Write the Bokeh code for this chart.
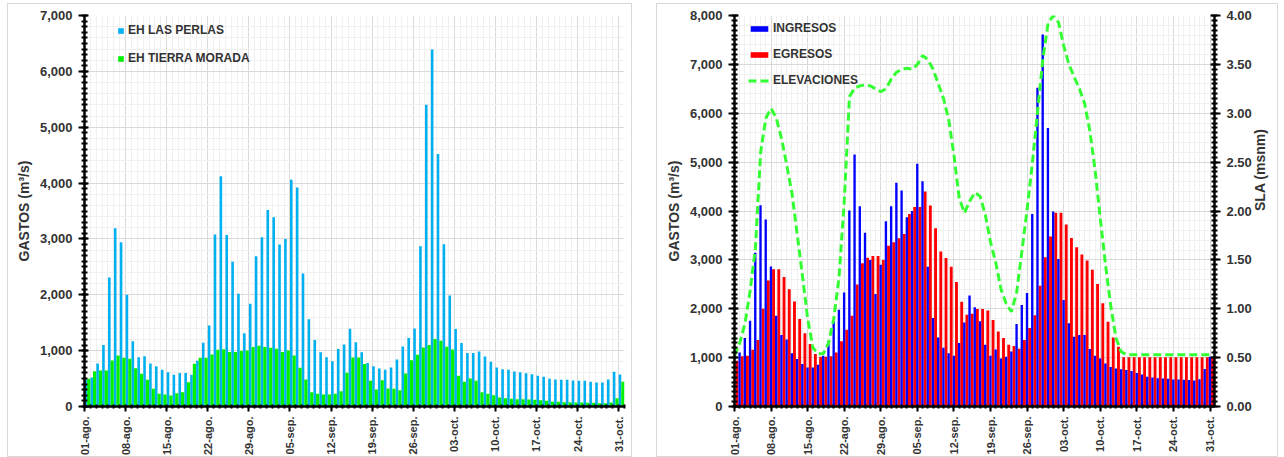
import math
from bokeh.plotting import figure
from bokeh.models import (ColumnDataSource, Range1d, LinearAxis, FixedTicker,
                          SingleIntervalTicker, NumeralTickFormatter, Legend, LegendItem)
from bokeh.layouts import row
from bokeh.embed import file_html
from bokeh.resources import INLINE

# ---------------- data ----------------
days = list(range(92))  # 01-ago .. 31-oct
tick_days = list(range(0, 92, 7))
tick_labels = ["01-ago.", "08-ago.", "15-ago.", "22-ago.", "29-ago.", "05-sep.", "12-sep.",
               "19-sep.", "26-sep.", "03-oct.", "10-oct.", "17-oct.", "24-oct.", "31-oct."]

las_perlas = [480, 520, 770, 1100, 2310, 3190, 2940, 2000, 1170, 880,
              900, 770, 720, 660, 615, 570, 600, 600, 570, 820,
              1140, 1450, 3080, 4120, 3070, 2590, 2020, 1310, 1840, 2690,
              3030, 3520, 3390, 2900, 3000, 4060, 3920, 2380, 1560, 1190,
              970, 880, 810, 1030, 1110, 1390, 1150, 970, 780, 720,
              680, 660, 700, 840, 1075, 1225, 1395, 2870, 5400, 6390,
              4520, 2905, 1985, 1387, 1135, 956, 956, 986, 896, 800,
              700, 669, 657, 627, 615, 597, 579, 550, 532, 496,
              484, 478, 478, 466, 460, 460, 442, 430, 430, 484,
              621, 573]
tierra_morada = [496, 633, 645, 645, 824, 914, 872, 854, 687, 585,
                 478, 317, 227, 215, 197, 239, 257, 436, 765, 872,
                 872, 932, 1016, 1027, 974, 974, 992, 1004, 1063, 1087,
                 1063, 1051, 1033, 974, 1004, 914, 693, 484, 257, 227,
                 215, 215, 227, 275, 603, 878, 878, 759, 460, 305,
                 472, 323, 317, 293, 591, 830, 926, 1057, 1099, 1207,
                 1177, 1069, 1021, 550, 442, 502, 460, 257, 227, 203,
                 161, 149, 137, 131, 131, 125, 119, 113, 102, 84,
                 84, 78, 78, 72, 72, 66, 66, 60, 60, 72,
                 149, 442]

ingresos = [1107, 1400, 1755, 3145, 4120, 3825, 2862, 1858, 1462, 1373,
            1090, 970, 868, 800, 800, 854, 1039, 1333, 1743, 1982,
            2331, 4010, 5155, 4098, 3555, 3000, 2300, 2900, 3790, 4098,
            4576, 4419, 3873, 4000, 4966, 4611, 2860, 1810, 1410, 1200,
            1090, 1040, 1300, 1720, 2270, 2029, 1742, 1264, 1038, 1168,
            984, 1018, 1127, 1687, 2077, 2322, 3941, 6523, 7609, 5700,
            3989, 3019, 2179, 1701, 1428, 1462, 1462, 1175, 1038, 984,
            881, 810, 780, 760, 745, 724, 683, 656, 608, 594,
            580, 574, 567, 553, 553, 546, 540, 530, 560, 765,
            1018, 1018]
egresos = [936, 1030, 1039, 1162, 1360, 2000, 2577, 2809, 2809, 2650,
           2399, 2146, 1791, 1500, 1278, 1073, 1018, 1018, 1030, 1107,
           1333, 1572, 1859, 2495, 2932, 3042, 3080, 3080, 3000, 3290,
           3360, 3440, 3530, 3940, 4080, 4080, 4400, 4112, 3648, 3170,
           3040, 2860, 2545, 2145, 1878, 1900, 1995, 1995, 1965, 1772,
           1533, 1400, 1264, 1237, 1182, 1359, 1605, 1865, 2473, 3053,
           3477, 3962, 3962, 3723, 3449, 3258, 3108, 2985, 2800, 2507,
           2110, 1735, 1414, 1223, 1010, 1010, 1010, 1010, 1010, 1010,
           1010, 1010, 1010, 1010, 1010, 1010, 1010, 1010, 1010, 1010,
           1010, 1010]
elevaciones = [0.52, 0.65, 0.85, 1.19, 1.62, 2.60, 2.95, 3.05, 2.95, 2.74,
               2.47, 2.18, 1.76, 1.34, 0.90, 0.60, 0.54, 0.54, 0.65, 0.90,
               1.32, 2.10, 3.17, 3.26, 3.28, 3.29, 3.28, 3.25, 3.22, 3.25,
               3.35, 3.42, 3.45, 3.46, 3.45, 3.50, 3.59, 3.55, 3.45, 3.30,
               3.15, 2.93, 2.57, 2.13, 1.98, 2.10, 2.19, 2.15, 1.96, 1.68,
               1.47, 1.20, 1.05, 0.97, 1.17, 1.59, 2.02, 2.49, 3.02, 3.55,
               3.92, 4.00, 3.93, 3.69, 3.50, 3.37, 3.25, 3.10, 2.82, 2.42,
               1.92, 1.45, 1.03, 0.70, 0.56, 0.53, 0.53, 0.53, 0.53, 0.53,
               0.53, 0.53, 0.53, 0.53, 0.53, 0.53, 0.53, 0.53, 0.53, 0.53,
               0.53, 0.53]

# ---------------- style helpers ----------------
FONT = "Liberation Sans"
TXT = "#333333"
GRID = "#d9d9d9"
MINOR = "#f0f0f0"


def style_y(ax, interval, fmt):
    ax.ticker = SingleIntervalTicker(interval=interval, num_minor_ticks=10)
    ax.formatter = NumeralTickFormatter(format=fmt)
    ax.axis_line_color = "black"
    ax.axis_line_width = 2.5
    ax.major_tick_line_color = "black"
    ax.major_tick_line_width = 2
    ax.major_tick_out = 6
    ax.major_tick_in = 4
    ax.minor_tick_line_color = "black"
    ax.minor_tick_line_width = 2
    ax.minor_tick_out = 3
    ax.minor_tick_in = 3
    ax.major_label_standoff = 6
    ax.major_label_text_font = FONT
    ax.major_label_text_font_style = "bold"
    ax.major_label_text_font_size = "13px"
    ax.major_label_text_color = TXT
    ax.axis_label_text_font = FONT
    ax.axis_label_text_font_style = "bold"
    ax.axis_label_text_font_size = "14px"
    ax.axis_label_text_color = TXT
    ax.axis_label_standoff = 5


def style_x(p):
    ax = p.xaxis[0]
    ax.ticker = FixedTicker(ticks=tick_days, minor_ticks=days + [92])
    ax.major_label_overrides = {d: lab for d, lab in zip(tick_days, tick_labels)}
    ax.major_label_orientation = math.pi / 2
    ax.axis_line_color = "black"
    ax.axis_line_width = 2.5
    ax.major_tick_line_color = "black"
    ax.major_tick_line_width = 2
    ax.major_tick_out = 5
    ax.major_tick_in = 0
    ax.minor_tick_line_color = "black"
    ax.minor_tick_line_width = 2
    ax.minor_tick_out = 2
    ax.minor_tick_in = 2
    ax.major_label_standoff = 5
    ax.major_label_text_font = FONT
    ax.major_label_text_font_style = "bold"
    ax.major_label_text_font_size = "11px"
    ax.major_label_text_color = TXT
    g = p.xgrid[0]
    g.ticker = FixedTicker(ticks=tick_days, minor_ticks=days + [92])
    g.grid_line_color = GRID
    g.minor_grid_line_color = MINOR


def style_fig(p, yint):
    p.outline_line_color = None
    p.background_fill_color = "white"
    p.border_fill_color = "white"
    g = p.ygrid[0]
    g.ticker = SingleIntervalTicker(interval=yint, num_minor_ticks=5)
    g.grid_line_color = GRID
    g.minor_grid_line_color = MINOR
    style_x(p)


# ---------------- left chart ----------------
src1 = ColumnDataSource(dict(
    xb=[d + 0.23 for d in days], xg=[d + 0.72 for d in days],
    perlas=las_perlas, morada=tierra_morada))

p1 = figure(width=625, height=454, x_range=Range1d(0, 92), y_range=Range1d(0, 7000),
            output_backend="svg", toolbar_location=None,
            min_border_left=76, min_border_right=9, min_border_top=11, min_border_bottom=52)
style_fig(p1, 1000)
style_y(p1.yaxis[0], 1000, "0,0")
p1.yaxis[0].axis_label = "GASTOS (m³/s)"

r_perlas = p1.vbar(x="xb", top="perlas", width=0.44, bottom=0, source=src1,
                   fill_color="#00b0f0", line_color=None)
r_morada = p1.vbar(x="xg", top="morada", width=0.54, bottom=0, source=src1,
                   fill_color="#00f000", line_color=None)

leg1 = Legend(items=[LegendItem(label="EH LAS PERLAS", renderers=[r_perlas]),
                     LegendItem(label="EH TIERRA MORADA", renderers=[r_morada])],
              location=(33, 341), orientation="vertical",
              glyph_width=7, glyph_height=7, spacing=14, padding=0, margin=0,
              label_standoff=4, border_line_color=None, background_fill_alpha=0,
              label_text_font=FONT, label_text_font_style="bold",
              label_text_font_size="12px", label_text_color=TXT)
p1.add_layout(leg1)
p1.styles = {"border": "1px solid #d9d9d9"}

# ---------------- right chart ----------------
src2 = ColumnDataSource(dict(
    xr=[d + 0.475 for d in days], xi=[d + 0.975 for d in days],
    ing=ingresos, egr=egresos))
src3 = ColumnDataSource(dict(x=days, elev=elevaciones))

p2 = figure(width=622, height=454, x_range=Range1d(0, 91.85), y_range=Range1d(0, 8000),
            output_backend="svg", toolbar_location=None,
            min_border_left=77, min_border_right=65, min_border_top=11, min_border_bottom=52)
p2.extra_y_ranges = {"sla": Range1d(0, 4)}
style_fig(p2, 1000)
style_y(p2.yaxis[0], 1000, "0,0")
p2.yaxis[0].axis_label = "GASTOS (m³/s)"

ax_r = LinearAxis(y_range_name="sla", axis_label="SLA (msnm)")
style_y(ax_r, 0.5, "0.00")
ax_r.axis_label_orientation = math.pi / 2
p2.add_layout(ax_r, "right")

r_egr = p2.vbar(x="xr", top="egr", width=0.55, bottom=0, source=src2,
                fill_color="#ff0000", line_color=None)
r_ing = p2.vbar(x="xi", top="ing", width=0.45, bottom=0, source=src2,
                fill_color="#0000ff", line_color=None)
r_elev = p2.line(x="x", y="elev", source=src3, y_range_name="sla",
                 line_color="#33ff33", line_width=3, line_dash="8 4")

leg2 = Legend(items=[LegendItem(label="INGRESOS", renderers=[r_ing]),
                     LegendItem(label="EGRESOS", renderers=[r_egr]),
                     LegendItem(label="ELEVACIONES", renderers=[r_elev])],
              location=(14, 319), orientation="vertical",
              glyph_width=22, glyph_height=7, spacing=12, padding=0, margin=0,
              label_standoff=3, border_line_color=None, background_fill_alpha=0,
              label_text_font=FONT, label_text_font_style="bold",
              label_text_font_size="12px", label_text_color=TXT)
p2.add_layout(leg2)
p2.styles = {"border": "1px solid #d9d9d9"}

layout = row(p1, p2, spacing=24)
layout.margin = (3, 0, 0, 7)

with open("out.html", "w") as f:
    f.write(file_html(layout, INLINE))
